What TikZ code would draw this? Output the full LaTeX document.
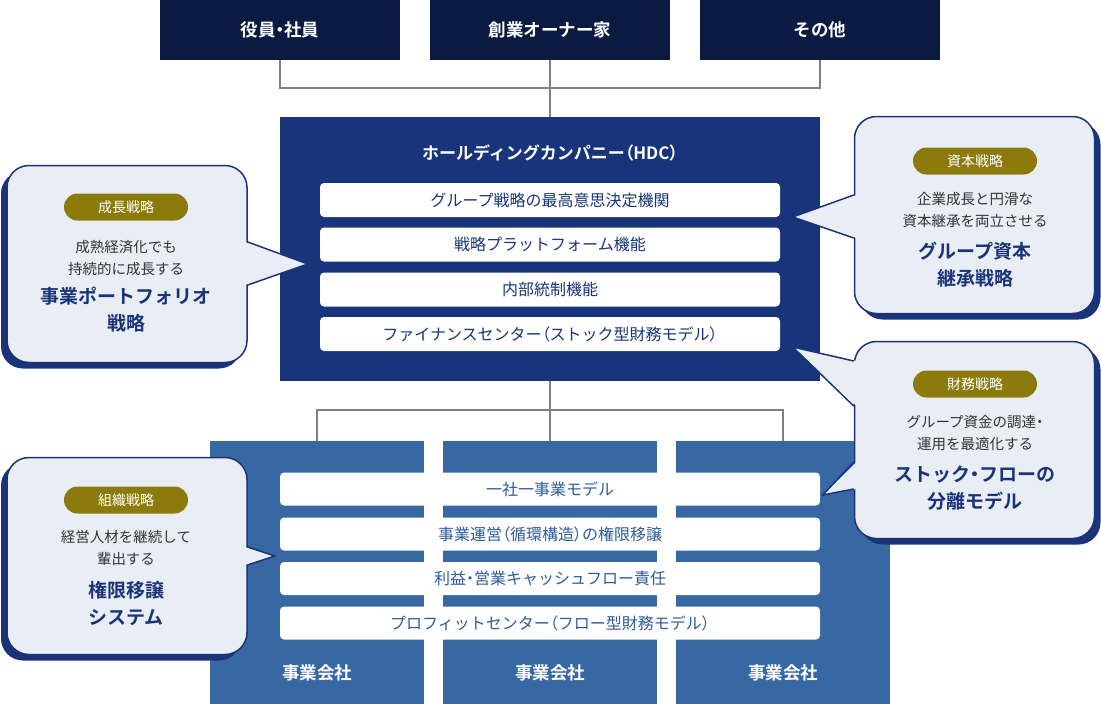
\documentclass[tikz,border=0pt]{standalone}
\usepackage{fontspec}
\setmainfont{Noto Sans CJK JP}[BoldFont={Noto Sans CJK JP Bold}]
\usetikzlibrary{calc,shadows}

\definecolor{topnavy}{HTML}{0B1A40}
\definecolor{hdcnavy}{HTML}{18347A}
\definecolor{coblue}{HTML}{3868A3}
\definecolor{calfill}{HTML}{E9EEF6}
\definecolor{calline}{HTML}{1B3479}
\definecolor{badgegold}{HTML}{8C7B0C}
\definecolor{linegray}{HTML}{808080}
\definecolor{textgray}{HTML}{333333}
\definecolor{rowblue}{HTML}{2E5C9C}

% proportional width for brackets and middle dots
\newcommand{\prop}[1]{{\addfontfeature{RawFeature=+palt}#1}}

\begin{document}
\begin{tikzpicture}[x=1pt, y=-1pt,
    topbox/.style={fill=topnavy, minimum width=240pt, minimum height=60pt, inner sep=0pt,
                   text=white, font=\fontsize{17.5}{20}\selectfont\bfseries},
    hdcrow/.style={fill=white, rounded corners=4pt, minimum width=460pt, minimum height=34pt,
                   inner sep=0pt, text=hdcnavy, font=\fontsize{16}{18}\selectfont},
    corow/.style={fill=white, rounded corners=4pt, minimum width=540pt, minimum height=33pt,
                  inner sep=0pt, text=rowblue, font=\fontsize{16}{18}\selectfont},
    cobox/.style={fill=coblue, minimum width=214pt, minimum height=263pt, inner sep=0pt},
    colabel/.style={text=white, font=\fontsize{17.5}{20}\selectfont\bfseries},
    conn/.style={draw=linegray, line width=1.4pt},
    calbox/.style={draw=calline, line width=1.5pt, fill=calfill, rounded corners=22pt,
                   minimum width=240pt, minimum height=197pt, inner sep=0pt},
    shadowleft/.style={drop shadow={shadow xshift=-6pt, shadow yshift=-6pt, fill=calline, opacity=1}},
    shadowright/.style={drop shadow={shadow xshift=6pt, shadow yshift=-6pt, fill=calline, opacity=1}},
    badge/.style={fill=badgegold, rounded corners=13.5pt, minimum width=124pt, minimum height=27pt,
                  inner sep=0pt, text=white, font=\fontsize{14}{16}\selectfont},
    caldesc/.style={align=center, text=textgray, font=\fontsize{14.5}{21.5}\selectfont},
    caltitle/.style={align=center, text=calline, font=\fontsize{19}{27}\selectfont\bfseries},
    ptr/.style={draw=calline, line width=1.5pt, line join=miter},
]
\useasboundingbox (0,0) rectangle (1101,704);

% Shareholders
\node[topbox] (yakuin) at (280,30) {役員\prop{・}社員};
\node[topbox] (owner) at (550,30) {創業オーナー家};
\node[topbox] (other) at (820,30) {その他};

% Holding company
\node[fill=hdcnavy, minimum width=540pt, minimum height=264pt, inner sep=0pt] (hdc) at (550,249) {};
\node[text=white, font=\fontsize{17}{20}\selectfont\bfseries] (hdctitle) at (550,153) {ホールディングカンパニー\prop{（}HDC\prop{）}};
\node[hdcrow] (h1) at (550,200) {グループ戦略の最高意思決定機関};
\node[hdcrow] (h2) at (550,244.5) {戦略プラットフォーム機能};
\node[hdcrow] (h3) at (550,289.5) {内部統制機能};
\node[hdcrow] (h4) at (550,334) {ファイナンスセンター\prop{（}ストック型財務モデル\prop{）}};

\coordinate (topbus) at (550,88);
\draw[conn] (yakuin.south) |- (topbus) -| (other.south);
\draw[conn] (owner.south) -- (hdc.north);

% Operating companies
\node[cobox] (co1) at (317,572.5) {};
\node[cobox] (co2) at (550,572.5) {};
\node[cobox] (co3) at (783,572.5) {};
\node[colabel] (co1lbl) at (317,673) {事業会社};
\node[colabel] (co2lbl) at (550,673) {事業会社};
\node[colabel] (co3lbl) at (783,673) {事業会社};
\node[corow] (b1) at (550,489) {一社一事業モデル};
\node[corow] (b2) at (550,534) {事業運営\prop{（}循環構造\prop{）}の権限移譲};
\node[corow] (b3) at (550,578.5) {利益\prop{・}営業キャッシュフロー責任};
\node[corow] (b4) at (550,623) {プロフィットセンター\prop{（}フロー型財務モデル\prop{）}};

\coordinate (botbus) at (550,410);
\draw[conn] (hdc.south) -- (co2.north);
\draw[conn] (co1.north) |- (botbus) -| (co3.north);

% Callouts
\node[calbox, shadowleft] (cal1) at (127,264) {};
\fill[calfill] ($(cal1.east)+(-3,-22)$) -- ($(cal1.east)+(60,0)$) -- ($(cal1.east)+(-3,21)$) -- cycle;
\draw[ptr] ($(cal1.east)+(0,-22)$) -- ($(cal1.east)+(60,0)$) -- ($(cal1.east)+(0,21)$);
\node[badge] (cal1badge) at (126,207) {成長戦略};
\node[caldesc] (cal1desc) at (126,258) {成熟経済化でも\\持続的に成長する};
\node[caltitle] (cal1title) at (126,310) {事業ポートフォリオ\\戦略};

\node[calbox, shadowright] (cal2) at (974.5,215) {};
\fill[calfill] ($(cal2.west)+(3,-20)$) -- ($(cal2.west)+(-61,2)$) -- ($(cal2.west)+(3,23)$) -- cycle;
\draw[ptr] ($(cal2.west)+(0,-20)$) -- ($(cal2.west)+(-61,2)$) -- ($(cal2.west)+(0,23)$);
\node[badge] (cal2badge) at (975,161) {資本戦略};
\node[caldesc] (cal2desc) at (975,210) {企業成長と円滑な\\資本継承を両立させる};
\node[caltitle] (cal2title) at (975,265) {グループ資本\\継承戦略};

\node[calbox, shadowright] (cal3) at (974.5,440) {};
\fill[calfill] ($(cal3.west)+(3,-79)$) -- ($(cal3.west)+(-61,-93)$) -- ($(cal3.west)+(3,-34)$) -- cycle;
\draw[ptr] ($(cal3.west)+(0,-79)$) -- ($(cal3.west)+(-61,-93)$) -- ($(cal3.west)+(0,-34)$);
\fill[calfill] ($(cal3.west)+(3,22)$) -- ($(cal3.west)+(-31,55)$) -- ($(cal3.west)+(3,49)$) -- cycle;
\draw[ptr] ($(cal3.west)+(0,22)$) -- ($(cal3.west)+(-31,55)$) -- ($(cal3.west)+(0,49)$);
\node[badge] (cal3badge) at (975,384) {財務戦略};
\node[caldesc] (cal3desc) at (975,433) {グループ資金の調達\prop{・}\\運用を最適化する};
\node[caltitle] (cal3title) at (975,488) {ストック\prop{・}フローの\\分離モデル};

\node[calbox, shadowleft] (cal4) at (127,556) {};
\fill[calfill] ($(cal4.east)+(-3,-9)$) -- ($(cal4.east)+(27,0)$) -- ($(cal4.east)+(-3,9)$) -- cycle;
\draw[ptr] ($(cal4.east)+(0,-9)$) -- ($(cal4.east)+(27,0)$) -- ($(cal4.east)+(0,9)$);
\node[badge] (cal4badge) at (126,500) {組織戦略};
\node[caldesc] (cal4desc) at (126,548) {経営人材を継続して\\輩出する};
\node[caltitle] (cal4title) at (126,603.5) {権限移譲\\システム};
\end{tikzpicture}
\end{document}
